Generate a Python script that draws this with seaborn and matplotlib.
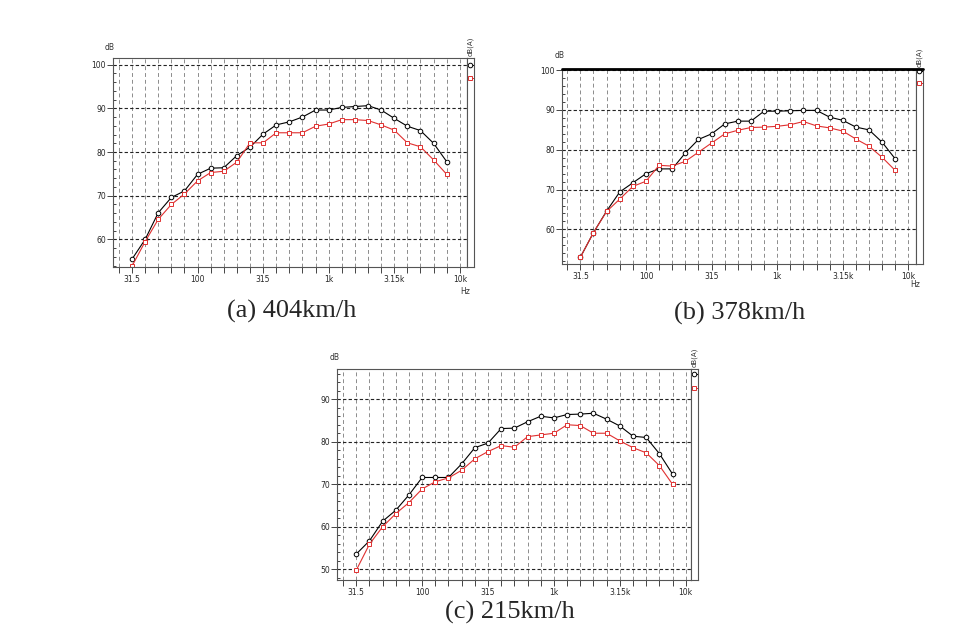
import matplotlib
matplotlib.use("Agg")
import matplotlib.pyplot as plt
import seaborn as sns
import pandas as pd

# 1/3 octave bands, 31.5 Hz .. 8 kHz
bands = ["31.5", "40", "50", "63", "80", "100", "125", "160", "200", "250",
         "315", "400", "500", "630", "800", "1k", "1.25k", "1.6k", "2k",
         "2.5k", "3.15k", "4k", "5k", "6.3k", "8k"]
tick_labels = ["31.5", "100", "315", "1k", "3.15k", "10k"]

# (a) 404 km/h
a_black = [55.5, 60.0, 66.1, 69.6, 71.1, 74.9, 76.3, 76.4, 79.2, 81.1, 84.1, 86.2, 86.9,
           88.0, 89.6, 89.6, 90.2, 90.4, 90.6, 89.6, 87.7, 85.9, 84.9, 82.0, 77.8]
a_red = [53.9, 59.5, 64.6, 68.0, 70.4, 73.4, 75.3, 75.6, 77.7, 82.1, 82.1, 84.4, 84.4,
         84.4, 85.9, 86.4, 87.4, 87.4, 87.2, 86.2, 85.0, 82.1, 81.2, 78.2, 74.9]
# (b) 378 km/h
b_black = [53.0, 59.2, 64.6, 69.4, 71.7, 74.0, 75.2, 75.2, 79.2, 82.6, 84.0, 86.5, 87.2,
           87.2, 89.7, 89.7, 89.8, 89.9, 89.9, 88.2, 87.4, 85.7, 85.0, 81.9, 77.7]
b_red = [53.0, 59.2, 64.5, 67.6, 70.8, 72.1, 76.1, 75.9, 77.1, 79.4, 81.7, 84.0, 84.9,
         85.6, 85.7, 85.9, 86.3, 87.1, 86.0, 85.5, 84.7, 82.7, 80.9, 78.1, 74.8]
# (c) 215 km/h
c_black = [53.6, 56.7, 61.3, 63.9, 67.5, 71.6, 71.6, 71.6, 74.8, 78.6, 79.7, 83.1, 83.2,
           84.7, 86.0, 85.6, 86.4, 86.5, 86.7, 85.3, 83.7, 81.3, 81.0, 77.2, 72.4]
c_red = [49.8, 55.9, 60.0, 63.1, 65.7, 68.9, 70.6, 71.5, 73.3, 76.0, 77.7, 79.1, 78.7,
         81.2, 81.6, 82.0, 84.0, 83.8, 82.0, 82.0, 80.2, 78.6, 77.4, 74.4, 70.0]

W, H = 970, 643
RED = "#e03030"
sns.set_style("white")
plt.rcParams["font.family"] = ["DejaVu Sans"]
fig = plt.figure(figsize=(W / 100, H / 100), dpi=100)


def px(x0, y0, x1, y1):
    return [x0 / W, 1 - y1 / H, (x1 - x0) / W, (y1 - y0) / H]


def panel(box, xlim, ylim, yticks, black, red, leg_y, caption, cap_xy, db_xy, hz_xy=None, thick_top=False):
    x0, y0, x1, y1 = box
    ax = fig.add_axes(px(x0, y0, x1, y1))
    df = pd.DataFrame({"band": range(len(bands)), "black": black, "red": red})

    for v in range(-1, 26):
        ax.axvline(v, color="#8c8c8c", lw=0.7, ls=(0, (4, 3)), zorder=0)
    for v in yticks:
        ax.axhline(v, color="#222222", lw=0.8, ls=(0, (3, 2)), zorder=0)

    sns.lineplot(data=df, x="band", y="black", ax=ax, color="black", lw=0.8,
                 marker="o", markersize=3.3, markerfacecolor="white",
                 markeredgecolor="black", markeredgewidth=0.7)
    sns.lineplot(data=df, x="band", y="red", ax=ax, color=RED, lw=0.8,
                 marker="s", markersize=3.3, markerfacecolor="white",
                 markeredgecolor=RED, markeredgewidth=0.7)

    ax.set_xlim(*xlim)
    ax.set_ylim(*ylim)
    ax.set_xticks([0, 5, 10, 15, 20, 25])
    ax.set_xticklabels(tick_labels)
    ax.set_xticks(range(-1, 26), minor=True)
    ax.set_yticks(yticks)
    ax.set_yticklabels([str(v) for v in yticks])
    ax.set_yticks([v for v in range(int(ylim[0]) + 1, int(ylim[1]) + 1) if v % 2 == 0], minor=True)
    ax.tick_params(axis="x", which="both", direction="out", length=4, width=0.7,
                   color="#444444", labelsize=5.5, pad=2, bottom=True)
    ax.tick_params(axis="y", which="major", direction="out", length=4, width=0.7,
                   color="#444444", labelsize=5.5, pad=1, left=True)
    ax.tick_params(axis="y", which="minor", direction="in", length=2.5, width=0.7,
                   color="#444444", left=True)
    ax.set_xlabel("")
    ax.set_ylabel("")
    for s in ax.spines.values():
        s.set_color("#555555")
        s.set_linewidth(0.8)

    # legend strip
    lg = fig.add_axes(px(x1, y0, x1 + 7, y1))
    lg.set_xlim(0, 1)
    lg.set_ylim(*ylim)
    lg.set_xticks([])
    lg.set_yticks([])
    for s in lg.spines.values():
        s.set_color("#555555")
        s.set_linewidth(0.8)
    lg.plot([0, 1], [leg_y[0]] * 2, color="black", lw=0.7)
    lg.plot([0.5], [leg_y[0]], marker="o", ms=3.3, mfc="white", mec="black", mew=0.7)
    lg.plot([0, 1], [leg_y[1]] * 2, color=RED, lw=0.7)
    lg.plot([0.5], [leg_y[1]], marker="s", ms=3.3, mfc="white", mec=RED, mew=0.7)
    fig.text((x1 + 3.5) / W, 1 - (y0 - 2) / H, "dB(A)", rotation=90, fontsize=5,
             ha="center", va="bottom", color="#333333")

    if thick_top:
        fig.add_artist(plt.Line2D([x0 / W, (x1 + 7) / W], [1 - y0 / H] * 2,
                                  color="black", lw=2))

    fig.text(db_xy[0] / W, 1 - db_xy[1] / H, "dB", fontsize=5.5, ha="center",
             va="center", color="#333333")
    if hz_xy:
        fig.text(hz_xy[0] / W, 1 - hz_xy[1] / H, "Hz", fontsize=5.5, ha="center",
                 va="center", color="#333333")
    fig.text(cap_xy[0] / W, 1 - cap_xy[1] / H, caption, fontsize=19,
             family="Liberation Serif", ha="center", va="center")
    return ax


panel((113, 58, 467, 267), (-1.45, 25.55), (53.7, 101.5), [60, 70, 80, 90, 100],
      a_black, a_red, (100, 97), "(a) 404km/h", (292, 311), (110, 48), (465, 292))
panel((562, 69, 916, 264), (-1.4, 25.58), (51.3, 100.3), [60, 70, 80, 90, 100],
      b_black, b_red, (99.8, 96.7), "(b) 378km/h", (740, 313), (560, 56), (915, 285),
      thick_top=True)
panel((337, 369, 691, 580), (-1.46, 25.4), (47.5, 97.1), [50, 60, 70, 80, 90],
      c_black, c_red, (96, 92.6), "(c) 215km/h", (510, 612), (335, 357))

fig.savefig("out.png", dpi=100)
